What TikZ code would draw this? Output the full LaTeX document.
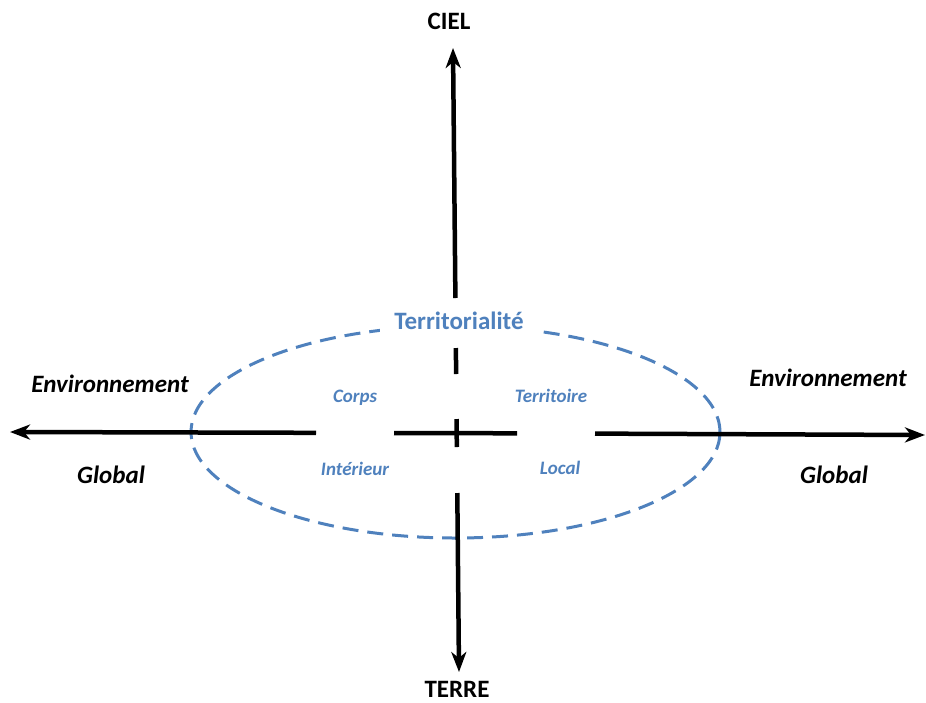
\documentclass[tikz,border=0pt]{standalone}
\usepackage{fontspec}
\setmainfont{Carlito}
\usetikzlibrary{arrows.meta}
\definecolor{tblue}{HTML}{4F81BD}
\tikzset{
  axis/.style={line width=4.5pt, black},
  tip/.style={-{Stealth[length=20pt,width=15pt,inset=6pt]}},
  ell/.style={tblue, line width=3pt, dash pattern=on 16pt off 9pt},
  bigl/.style={font=\fontsize{25}{28}\selectfont\bfseries, anchor=base, inner sep=0pt},
  envl/.style={font=\fontsize{25}{28}\selectfont\bfseries\itshape, anchor=base, inner sep=0pt},
  small/.style={font=\fontsize{19}{22}\selectfont\bfseries\itshape, text=tblue, anchor=base, inner sep=0pt}
}
\begin{document}
\begin{tikzpicture}[x=1pt,y=-1pt]
\useasboundingbox (0,0) rectangle (926,702);
% ellipse
\draw[ell] (455.5,432) ellipse [x radius=264.5pt, y radius=106pt];
% vertical axis coordinates
\coordinate (vtop) at (453,48);
\coordinate (v1) at (455.4,298);
\coordinate (v2) at (455.9,348);
\coordinate (v3) at (456.1,374);
\coordinate (v4) at (456.6,419);
\coordinate (v5) at (456.8,447);
\coordinate (v6) at (457.3,493);
\coordinate (vbot) at (459,672);
% horizontal axis coordinates
\coordinate (hleft) at (10,432);
\coordinate (h1) at (316,432.8);
\coordinate (h2) at (394,433);
\coordinate (h3) at (517,433.3);
\coordinate (h4) at (595,433.6);
\coordinate (hright) at (925,435);
% axes
\draw[axis,tip] (v1) -- (vtop);
\draw[axis] (v2) -- (v3);
\draw[axis] (v4) -- (v5);
\draw[axis,tip] (v6) -- (vbot);
\draw[axis,tip] (h1) -- (hleft);
\draw[axis] (h2) -- (h3);
\draw[axis,tip] (h4) -- (hright);
% labels
\node[bigl] (ciel) at (449,29) {CIEL};
\node[bigl] (terre) at (457,697) {TERRE};
\node[bigl, text=tblue, fill=white, inner xsep=14pt, inner ysep=6pt] (terri) at (459,329) {Territorialité};
\node[envl] (envL) at (110,392) {Environnement};
\node[envl] (envR) at (828,386) {Environnement};
\node[envl] (globL) at (111,483) {Global};
\node[envl] (globR) at (834,483) {Global};
\node[small] (corps) at (355,402) {Corps};
\node[small] (territoire) at (551,402) {Territoire};
\node[small] (interieur) at (355,475) {Intérieur};
\node[small] (local) at (560,474) {Local};
\end{tikzpicture}
\end{document}
